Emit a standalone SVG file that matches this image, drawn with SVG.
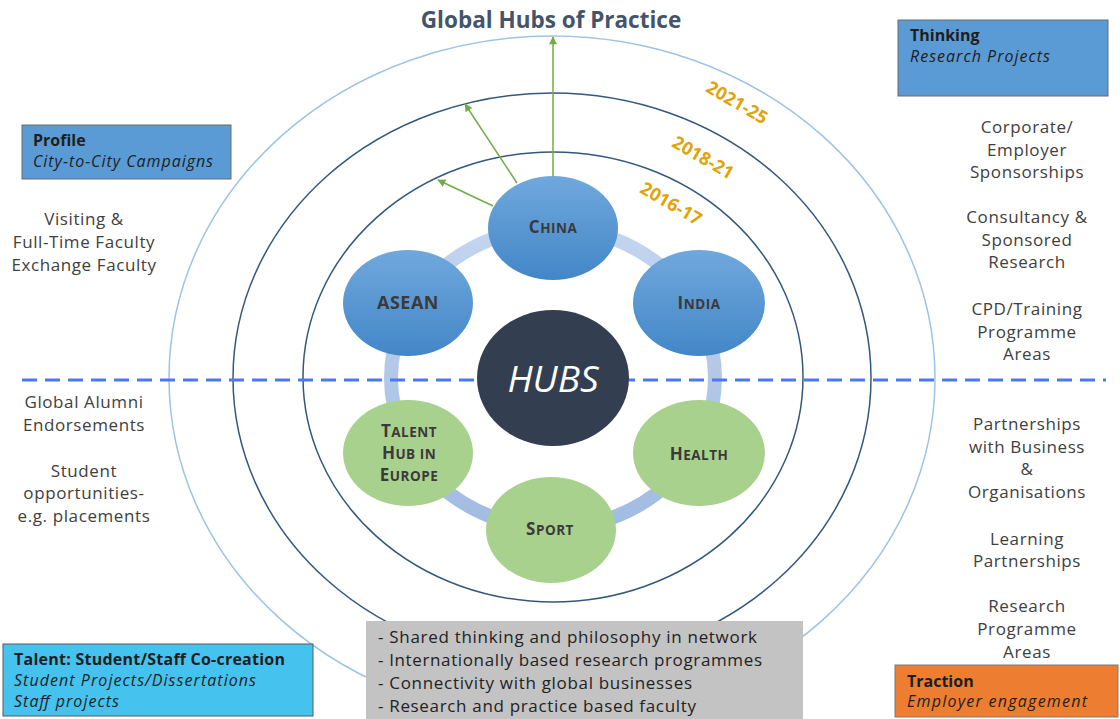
<svg xmlns="http://www.w3.org/2000/svg" width="1120" height="719" viewBox="0 0 1120 719">
<defs>
<linearGradient id="gBlue" x1="0" y1="0" x2="0" y2="1"><stop offset="0" stop-color="#70a8dd"/><stop offset="1" stop-color="#4386c7"/></linearGradient>
<linearGradient id="gRing" x1="0" y1="0" x2="0" y2="1"><stop offset="0" stop-color="#c3d5ef"/><stop offset="1" stop-color="#a2bbe1"/></linearGradient>
<marker id="arr" viewBox="0 0 10 10" refX="9" refY="5" markerWidth="9" markerHeight="8" orient="auto" markerUnits="userSpaceOnUse"><path d="M0,0 L10,5 L0,10 z" fill="#70ad47"/></marker>
<style>
.side{font-family:"Open Sans",sans-serif;font-size:17px;letter-spacing:0.6px;fill:#404040;text-anchor:middle}
.box{font-family:"Open Sans",sans-serif;font-size:16px;fill:#1e1e1e}
.grey{font-family:"Open Sans",sans-serif;font-size:17px;fill:#222}
.b{font-weight:bold}
.i{font-style:italic}
.orbit{fill:none;stroke-width:1.5}
.lbl{font-family:"Open Sans",sans-serif;font-weight:bold;fill:#3a3a3a;text-anchor:middle;font-size:13.5px;letter-spacing:0.5px}
.cap{font-size:17px}
.yr{font-family:"Open Sans",sans-serif;font-weight:bold;font-size:18px;fill:#e0a30a;text-anchor:middle}
.arrow{stroke:#70ad47;stroke-width:1.5;fill:none;marker-end:url(#arr)}
</style>
</defs>
<rect width="1120" height="719" fill="#ffffff"/>

<g id="orbits">
<ellipse class="orbit" cx="552" cy="378" rx="383" ry="342" stroke="#9dc3e6"/>
<ellipse class="orbit" cx="552" cy="378" rx="319" ry="285" stroke="#33587e"/>
<ellipse class="orbit" cx="553" cy="377" rx="250" ry="225" stroke="#33587e"/>
</g>

<text x="551" y="28" font-family="Open Sans, sans-serif" font-weight="bold" font-size="22.5" fill="#44546a" text-anchor="middle">Global Hubs of Practice</text>

<g id="years">
<text class="yr" transform="translate(734,108) rotate(30)">2021-25</text>
<text class="yr" transform="translate(700,163) rotate(30)">2018-21</text>
<text class="yr" transform="translate(668,209) rotate(30)">2016-17</text>
</g>

<g id="connectors">
<ellipse cx="553" cy="378" rx="162" ry="150" fill="none" stroke="url(#gRing)" stroke-width="14"/>
<line class="arrow" x1="553" y1="182" x2="553" y2="37"/>
<line class="arrow" x1="517" y1="183" x2="465" y2="104"/>
<line class="arrow" x1="493" y1="206" x2="438" y2="180"/>
</g>

<line id="divider" x1="22" y1="380" x2="1106" y2="380" stroke="#4d78f2" stroke-width="3" stroke-dasharray="15 8"/>

<g id="hubs">
<ellipse cx="553" cy="378" rx="76" ry="68" fill="#333f50"/>
<text x="553" y="392" font-family="Open Sans, sans-serif" font-style="italic" font-size="37" fill="#ffffff" text-anchor="middle">HUBS</text>
</g>
<g id="china">
<ellipse cx="553" cy="228" rx="65" ry="52" fill="url(#gBlue)"/>
<text class="lbl" x="553" y="233"><tspan class="cap">C</tspan>HINA</text>
</g>
<g id="asean">
<ellipse cx="408" cy="303" rx="65" ry="53" fill="url(#gBlue)"/>
<text class="lbl" x="408" y="309" style="font-size:18px">ASEAN</text>
</g>
<g id="india">
<ellipse cx="699" cy="303" rx="66" ry="53" fill="url(#gBlue)"/>
<text class="lbl" x="699" y="309"><tspan class="cap">I</tspan>NDIA</text>
</g>
<g id="talent-hub">
<ellipse cx="408" cy="453" rx="65" ry="53" fill="#a9d18e"/>
<text class="lbl" x="409" y="437"><tspan class="cap">T</tspan>ALENT</text>
<text class="lbl" x="409" y="459"><tspan class="cap">H</tspan>UB IN</text>
<text class="lbl" x="409" y="481"><tspan class="cap">E</tspan>UROPE</text>
</g>
<g id="health">
<ellipse cx="699" cy="453" rx="66" ry="53" fill="#a9d18e"/>
<text class="lbl" x="699" y="460"><tspan class="cap">H</tspan>EALTH</text>
</g>
<g id="sport">
<ellipse cx="551" cy="530" rx="65" ry="53" fill="#a9d18e"/>
<text class="lbl" x="550" y="535"><tspan class="cap">S</tspan>PORT</text>
</g>

<g id="left-texts">
<text class="side" x="84" y="225">Visiting &amp;</text>
<text class="side" x="84" y="248">Full-Time Faculty</text>
<text class="side" x="84" y="271">Exchange Faculty</text>
<text class="side" x="84" y="408">Global Alumni</text>
<text class="side" x="84" y="431">Endorsements</text>
<text class="side" x="84" y="477">Student</text>
<text class="side" x="84" y="499">opportunities-</text>
<text class="side" x="84" y="522">e.g. placements</text>
</g>

<g id="right-texts">
<text class="side" x="1027" y="133">Corporate/</text>
<text class="side" x="1027" y="156">Employer</text>
<text class="side" x="1027" y="178">Sponsorships</text>
<text class="side" x="1027" y="223">Consultancy &amp;</text>
<text class="side" x="1027" y="246">Sponsored</text>
<text class="side" x="1027" y="268">Research</text>
<text class="side" x="1027" y="315">CPD/Training</text>
<text class="side" x="1027" y="338">Programme</text>
<text class="side" x="1027" y="360">Areas</text>
<text class="side" x="1027" y="430">Partnerships</text>
<text class="side" x="1027" y="453">with Business</text>
<text class="side" x="1027" y="475">&amp;</text>
<text class="side" x="1027" y="498">Organisations</text>
<text class="side" x="1027" y="545">Learning</text>
<text class="side" x="1027" y="567">Partnerships</text>
<text class="side" x="1027" y="612">Research</text>
<text class="side" x="1027" y="635">Programme</text>
<text class="side" x="1027" y="658">Areas</text>
</g>

<g id="profile">
<rect x="22" y="125" width="209" height="54" fill="#5b9bd5" stroke="#6b6b6b" stroke-width="1"/>
<text class="box b" x="33" y="146">Profile</text>
<text class="box i" x="33" y="167" textLength="180" lengthAdjust="spacing">City-to-City Campaigns</text>
</g>
<g id="thinking">
<rect x="898" y="20" width="210" height="76" fill="#5b9bd5" stroke="#6b6b6b" stroke-width="1"/>
<text class="box b" x="910" y="41">Thinking</text>
<text class="box i" x="910" y="62" textLength="140" lengthAdjust="spacing">Research Projects</text>
</g>
<g id="talent">
<rect x="3" y="644" width="310" height="72" fill="#45c3ee" stroke="#5a5a5a" stroke-width="1"/>
<text class="box b" x="14" y="665" textLength="271" lengthAdjust="spacing">Talent: Student/Staff Co-creation</text>
<text class="box i" x="14" y="686" textLength="242" lengthAdjust="spacing">Student Projects/Dissertations</text>
<text class="box i" x="14" y="707" textLength="105" lengthAdjust="spacing">Staff projects</text>
</g>
<g id="summary">
<rect x="366" y="621" width="437" height="100" fill="#c3c3c3"/>
<text class="grey" x="378" y="643" textLength="379" lengthAdjust="spacing">- Shared thinking and philosophy in network</text>
<text class="grey" x="378" y="666" textLength="384" lengthAdjust="spacing">- Internationally based research programmes</text>
<text class="grey" x="378" y="689" textLength="314" lengthAdjust="spacing">- Connectivity with global businesses</text>
<text class="grey" x="378" y="712" textLength="318" lengthAdjust="spacing">- Research and practice based faculty</text>
</g>
<g id="traction">
<rect x="895" y="665" width="223" height="52" fill="#ed7d31" stroke="#7a7a7a" stroke-width="1"/>
<text class="box b" x="907" y="687">Traction</text>
<text class="box i" x="907" y="707" textLength="180" lengthAdjust="spacing">Employer engagement</text>
</g>
</svg>
